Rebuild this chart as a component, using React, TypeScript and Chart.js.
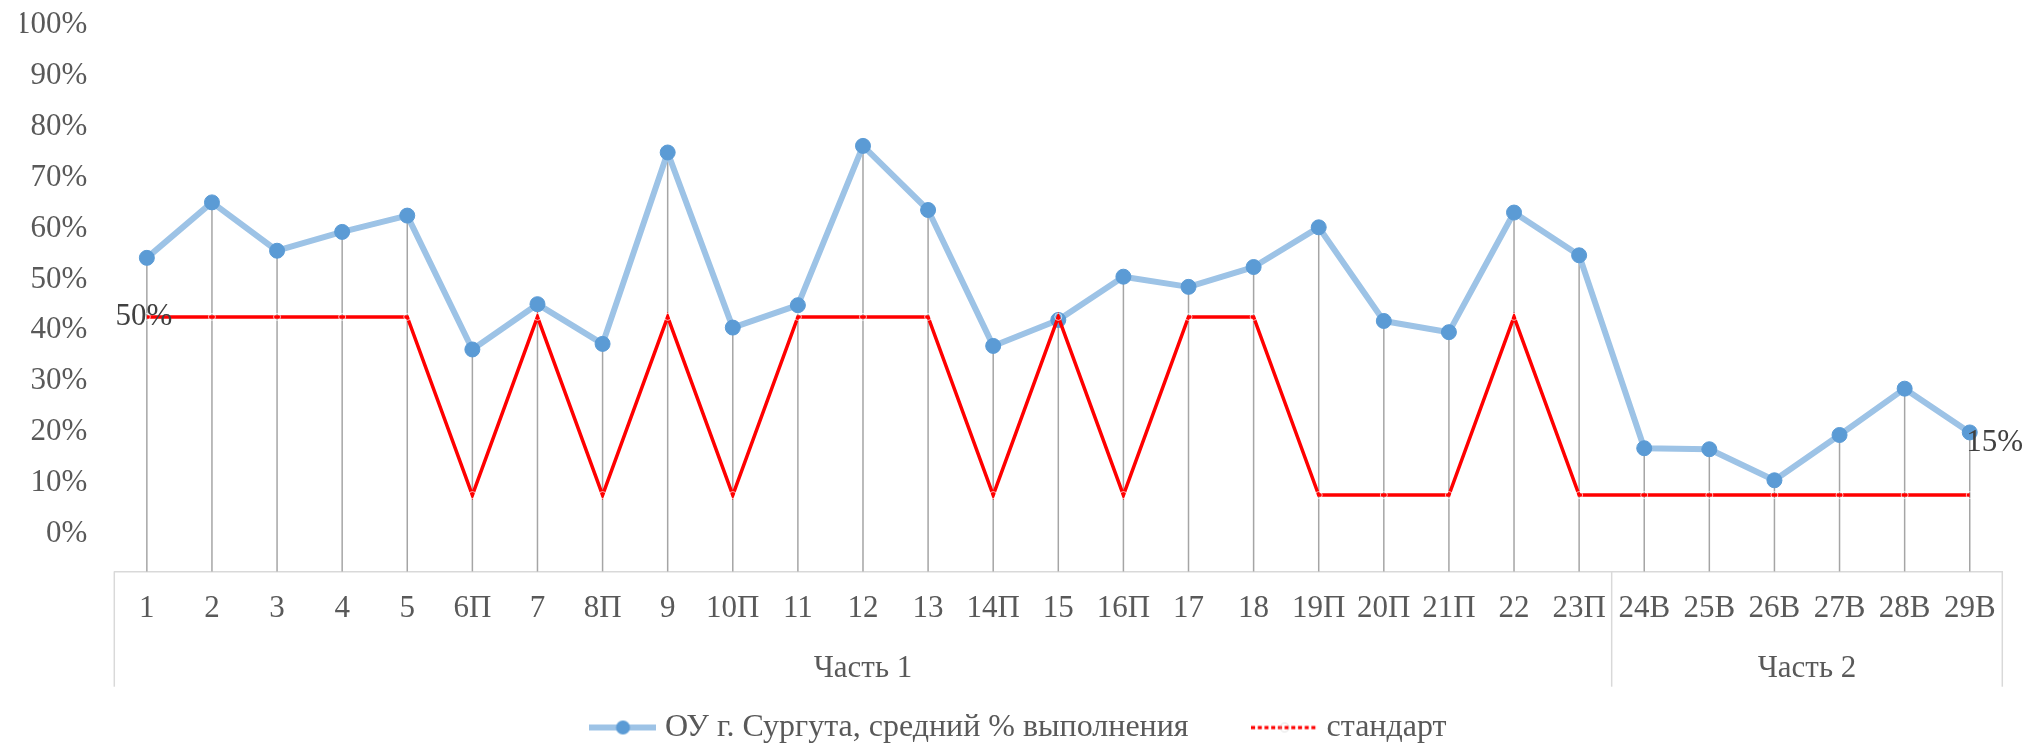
import React, { useEffect, useRef } from 'react';
import { Chart, registerables } from 'chart.js';

Chart.register(...registerables);

// ---------- data ----------
const CATEGORIES = ['1', '2', '3', '4', '5', '6П', '7', '8П', '9', '10П', '11', '12', '13', '14П', '15', '16П', '17', '18', '19П', '20П', '21П', '22', '23П', '24В', '25В', '26В', '27В', '28В', '29В'];
const GROUPS = [
  { label: 'Часть 1', first: 0, last: 22 },
  { label: 'Часть 2', first: 23, last: 28 },
];
const SURGUT_VALUES = [61.6, 72.5, 63.0, 66.7, 69.9, 43.6, 52.5, 44.7, 82.3, 47.9, 52.3, 83.6, 71.0, 44.3, 49.4, 57.9, 55.9, 59.8, 67.6, 49.2, 47.0, 70.5, 62.1, 24.2, 24.0, 17.9, 26.8, 35.9, 27.3];
const STANDARD_VALUES = [50, 50, 50, 50, 50, 15, 50, 15, 50, 15, 50, 50, 50, 15, 50, 15, 50, 50, 15, 15, 15, 50, 15, 15, 15, 15, 15, 15, 15];
const SERIES_NAMES = ['ОУ г. Сургута, средний % выполнения', 'стандарт'];
const Y_MIN = 0;
const Y_MAX = 100;
const Y_STEP = 10;
const STANDARD_LABELS = [
  { index: 0, dx: -3, dy: 0 },
  { index: 28, dx: 25, dy: -52 },
];

// ---------- style ----------
const FONT_FAMILY = "'Liberation Serif', 'Times New Roman', serif";
const FONT_SIZE = 31;
const LEGEND_FONT_SIZE = 32;
const TEXT_COLOR = '#595959';
const LABEL_COLOR = '#404040';
const AXIS_LINE = '#D9D9D9';
const DROP_LINE = '#A5A5A5';
const BLUE_LINE = '#9DC3E6';
const BLUE_MARK = '#5B9BD5';
const RED = '#FF0000';
const W = 2015;
const H = 737;
const BOX_DEPTH = 115.3;
const GROUP_LABEL_OFFSET = 97.5;

function makeBlueIcon() {
  const c = document.createElement('canvas');
  c.width = 67;
  c.height = 18;
  const g = c.getContext('2d')!;
  g.strokeStyle = BLUE_LINE;
  g.lineWidth = 6;
  g.beginPath();
  g.moveTo(0, 9);
  g.lineTo(67, 9);
  g.stroke();
  g.fillStyle = BLUE_MARK;
  g.beginPath();
  g.arc(33.5, 9, 7, 0, Math.PI * 2);
  g.fill();
  return c;
}

function makeRedIcon() {
  const c = document.createElement('canvas');
  c.width = 67;
  c.height = 12;
  const g = c.getContext('2d')!;
  g.fillStyle = RED;
  for (let x = 0; x < 66; x += 6.7) {
    g.fillRect(x, 4.5, 4, 3.2);
  }
  g.strokeStyle = 'rgba(200,200,200,0.5)';
  g.lineWidth = 1;
  g.beginPath();
  g.arc(33.5, 6, 4.5, 0, Math.PI * 2);
  g.stroke();
  return c;
}

const dropLinesPlugin = {
  id: 'dropLines',
  beforeDatasetsDraw(chart: any) {
    const { ctx } = chart;
    const yScale = chart.scales.y;
    const base = yScale.getPixelForValue(0);
    const metas = chart.getSortedVisibleDatasetMetas();
    ctx.save();
    ctx.strokeStyle = DROP_LINE;
    ctx.lineWidth = 1.5;
    CATEGORIES.forEach((_, i) => {
      let top = base;
      let x: number | null = null;
      metas.forEach((m: any) => {
        const el = m.data[i];
        if (el) {
          top = Math.min(top, el.y);
          x = el.x;
        }
      });
      if (x === null) return;
      ctx.beginPath();
      ctx.moveTo(x, top);
      ctx.lineTo(x, base);
      ctx.stroke();
    });
    ctx.restore();
  },
};

const groupAxisPlugin = {
  id: 'groupAxis',
  afterDraw(chart: any) {
    const { ctx, chartArea } = chart;
    const xs = chart.scales.x;
    const half = (xs.getPixelForValue(1) - xs.getPixelForValue(0)) / 2;
    const top = chartArea.bottom;
    const bottom = top + BOX_DEPTH;
    ctx.save();
    ctx.strokeStyle = AXIS_LINE;
    ctx.lineWidth = 1.5;
    ctx.fillStyle = TEXT_COLOR;
    ctx.font = `${FONT_SIZE}px ${FONT_FAMILY}`;
    ctx.textAlign = 'center';
    ctx.textBaseline = 'middle';
    GROUPS.forEach((g, gi) => {
      const l = xs.getPixelForValue(g.first) - half;
      const r = xs.getPixelForValue(g.last) + half;
      const edges = gi === 0 ? [l, r] : [r];
      edges.forEach((ex) => {
        ctx.beginPath();
        ctx.moveTo(ex, top);
        ctx.lineTo(ex, bottom);
        ctx.stroke();
      });
      ctx.fillText(g.label, (l + r) / 2, top + GROUP_LABEL_OFFSET);
    });
    ctx.restore();
  },
};

const dataLabelPlugin = {
  id: 'standardLabels',
  afterDatasetsDraw(chart: any) {
    const { ctx } = chart;
    const meta = chart.getDatasetMeta(1);
    ctx.save();
    ctx.fillStyle = LABEL_COLOR;
    ctx.font = `${FONT_SIZE}px ${FONT_FAMILY}`;
    ctx.textAlign = 'center';
    ctx.textBaseline = 'middle';
    STANDARD_LABELS.forEach((lb) => {
      const el = meta.data[lb.index];
      if (!el) return;
      ctx.fillText(`${STANDARD_VALUES[lb.index]}%`, el.x + lb.dx, el.y + lb.dy);
    });
    ctx.restore();
  },
};

export default function App() {
  const ref = useRef<HTMLCanvasElement | null>(null);

  useEffect(() => {
    if (!ref.current) return;
    const icons = [makeBlueIcon(), makeRedIcon()];
    const font = { family: FONT_FAMILY, size: FONT_SIZE };
    const chart = new Chart(ref.current, {
      type: 'line',
      data: {
        labels: CATEGORIES,
        datasets: [
          {
            label: SERIES_NAMES[0],
            data: SURGUT_VALUES,
            borderColor: BLUE_LINE,
            backgroundColor: BLUE_MARK,
            borderWidth: 6,
            borderJoinStyle: 'round',
            borderCapStyle: 'round',
            pointRadius: 7.5,
            pointBackgroundColor: BLUE_MARK,
            pointBorderColor: BLUE_MARK,
            pointBorderWidth: 1,
            tension: 0,
            order: 2,
            yAxisID: 'y',
          },
          {
            label: SERIES_NAMES[1],
            data: STANDARD_VALUES,
            borderColor: RED,
            backgroundColor: RED,
            borderWidth: 3.5,
            pointRadius: 3.5,
            pointBackgroundColor: 'rgba(0,0,0,0)',
            pointBorderColor: 'rgba(255,255,255,0.7)',
            pointBorderWidth: 1,
            tension: 0,
            order: 1,
            yAxisID: 'y',
          },
        ],
      },
      options: {
        responsive: false,
        devicePixelRatio: 1,
        animation: false,
        events: [],
        layout: { padding: { top: 54.4, left: 12.5, right: 0, bottom: -8.5 } },
        scales: {
          x: {
            type: 'category',
            offset: true,
            grid: { display: false, drawTicks: false },
            border: { display: true, color: AXIS_LINE, width: 1.5 },
            ticks: {
              autoSkip: false,
              maxRotation: 0,
              minRotation: 0,
              padding: 19.3,
              color: TEXT_COLOR,
              font,
            },
            afterFit: (s: any) => {
              s.height = 70.1;
            },
          },
          y: {
            type: 'linear',
            position: 'left',
            min: Y_MIN,
            max: Y_MAX,
            grid: { display: false, drawTicks: false },
            border: { display: false },
            ticks: {
              stepSize: Y_STEP,
              padding: 27,
              labelOffset: -37.5,
              color: TEXT_COLOR,
              font,
              callback: (v: any) => `${v}%`,
            },
            afterFit: (s: any) => {
              s.width = 93.8;
            },
          },
          yR: {
            type: 'linear',
            position: 'right',
            min: Y_MIN,
            max: Y_MAX,
            grid: { display: false, drawTicks: false },
            border: { display: false },
            ticks: { display: false },
            afterFit: (s: any) => {
              s.width = 20.7;
            },
          },
        },
        plugins: {
          tooltip: { enabled: false },
          legend: {
            display: true,
            position: 'bottom',
            labels: {
              usePointStyle: true,
              pointStyleWidth: 52,
              padding: 70,
              color: TEXT_COLOR,
              font: { family: FONT_FAMILY, size: LEGEND_FONT_SIZE },
              generateLabels: () =>
                SERIES_NAMES.map((text, i) => ({
                  text,
                  pointStyle: icons[i] as any,
                  fillStyle: 'rgba(0,0,0,0)',
                  strokeStyle: 'rgba(0,0,0,0)',
                  lineWidth: 0,
                  hidden: false,
                  datasetIndex: i,
                  fontColor: TEXT_COLOR,
                })),
            },
          },
        },
      } as any,
      plugins: [dropLinesPlugin, groupAxisPlugin, dataLabelPlugin],
    });
    return () => chart.destroy();
  }, []);

  return (
    <div style={{ position: 'absolute', left: 8, top: 8, width: W, height: H }}>
      <canvas ref={ref} width={W} height={H} style={{ display: 'block', width: W, height: H }} />
    </div>
  );
}
